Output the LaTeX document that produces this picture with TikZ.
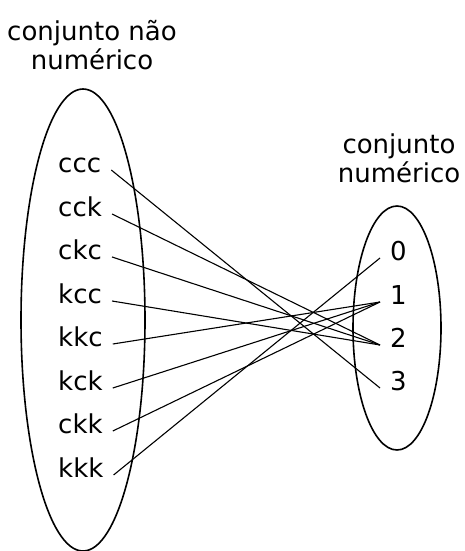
\documentclass[tikz,border=0pt]{standalone}
\usepackage{fontspec}
\setmainfont{DejaVu Sans}
\usetikzlibrary{shapes.geometric}

\begin{document}
\begin{tikzpicture}[
    x=1pt, y=-1pt,
    set/.style={draw, ellipse, line width=1.6pt, inner sep=0pt},
    elem/.style={inner xsep=10pt, inner ysep=0pt, font=\fontsize{26}{29}\selectfont},
    settitle/.style={align=center, inner sep=0pt, font=\fontsize{26}{29}\selectfont},
    map/.style={line width=1.1pt}
]
\useasboundingbox (0,0) rectangle (464,551);
% the two sets
\node[set, minimum width=124pt, minimum height=462pt] (dom) at (83,320) {};
\node[set, minimum width=88pt, minimum height=244pt] (cod) at (397,328) {};
\node[settitle] (domtitle) at (92,45) {conjunto não\\numérico};
\node[settitle] (codtitle) at (399,158) {conjunto\\numérico};

% elements
\foreach \name/\y in {ccc/170, cck/214, ckc/257, kcc/301, kkc/344, kck/388, ckk/431, kkk/475}
    \node[elem, anchor=mid west] (\name) at (48,\y) {\name};
\foreach \n/\y in {0/258, 1/302, 2/345, 3/388}
    \node[elem, anchor=mid west] (n\n) at (380,\y) {\n};

% mapping
\foreach \a/\b in {ccc/3, cck/2, ckc/2, kcc/2, kkc/1, kck/1, ckk/1, kkk/0}
    \draw[map] (\a.mid east) -- (n\b.mid west);
\end{tikzpicture}
\end{document}
